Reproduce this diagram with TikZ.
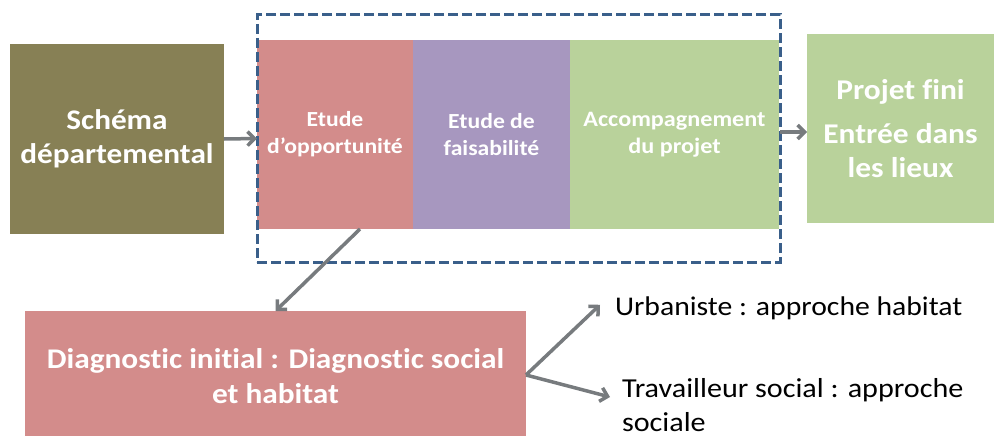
\documentclass[tikz,border=0pt]{standalone}
\usepackage{fontspec}
\setmainfont{Carlito}[FakeStretch=1.1, Ligatures=NoCommon]
\usetikzlibrary{arrows.meta,calc}
\definecolor{olive}{HTML}{878055}
\definecolor{pinkbox}{HTML}{D38C8B}
\definecolor{purplebox}{HTML}{A797BF}
\definecolor{greenbox}{HTML}{B9D29B}
\definecolor{dashblue}{HTML}{3A5F8A}
\definecolor{arrowgray}{HTML}{777B7E}
\tikzset{
  box/.style={rectangle, inner sep=0pt, outer sep=0pt, text=white, align=center, font=\bfseries},
  conn/.style={draw=arrowgray, line width=3.5pt, -{Straight Barb[length=7pt,width=14pt,line width=3.5pt]}},
  plain/.style={inner sep=0pt, outer sep=0pt, align=left, text=black}
}
\begin{document}
\begin{tikzpicture}[x=1pt,y=-1pt]
\useasboundingbox (0,0) rectangle (994,436);
\node[box, fill=olive, minimum width=214pt, minimum height=190pt, font=\bfseries\fontsize{28.4}{34}\selectfont] (schema) at (117,139) {Schéma\\départemental};
\node[box, fill=pinkbox, minimum width=156pt, minimum height=189pt, font=\bfseries\fontsize{21.5}{27}\selectfont] (opp) at (335,134.5) {Etude\\d’opportunité};
\node[box, fill=purplebox, minimum width=157pt, minimum height=189pt, font=\bfseries\fontsize{21.5}{27}\selectfont] (fais) at (491.5,134.5) {Etude de\\faisabilité};
\node[box, fill=greenbox, minimum width=209pt, minimum height=189pt, font=\bfseries\fontsize{22}{27}\selectfont] (acc) at (674.5,134.5) {Accompagnement\\du projet};
\node[draw=dashblue, line width=3pt, dash pattern=on 10pt off 4pt, minimum width=523pt, minimum height=247pt, inner sep=0pt, outer sep=0pt] (dash) at (518.5,138.5) {};
\node[box, fill=greenbox, minimum width=187pt, minimum height=189pt, font=\bfseries\fontsize{28.6}{34}\selectfont] (projet) at (900.5,128.5) {Projet fini\\[10pt]Entrée dans\\les lieux};
\node[box, fill=pinkbox, minimum width=501pt, minimum height=130pt, font=\bfseries\fontsize{28.5}{35}\selectfont] (diag) at (275.5,376) {Diagnostic initial : Diagnostic social\\et habitat};
\node[plain, anchor=base west, font=\fontsize{27}{35}\selectfont] (urb) at (615,315) {Urbaniste : approche habitat};
\node[plain, anchor=north west, font=\fontsize{27.4}{34.5}\selectfont] (trav) at (622,378) {Travailleur social : approche\\sociale};
\coordinate (split) at ($(diag.east)+(0,-1)$);
\draw[conn] (schema.east) -- (dash.west);
\draw[conn] (dash.east |- 0,132) -- (projet.west |- 0,132);
\draw[conn] ([xshift=25pt]opp.south) -- (diag.north);
\draw[conn] (split) -- ($(urb.west)+(-15,-3)$);
\draw[conn] (split) -- ($(trav.north west)+(-12,19)$);
\end{tikzpicture}
\end{document}
